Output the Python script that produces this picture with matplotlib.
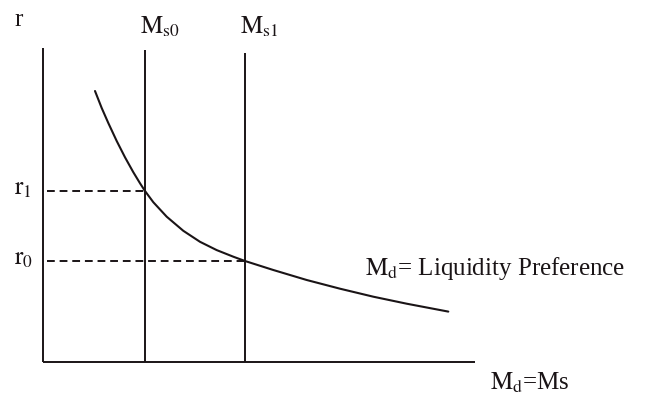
import matplotlib
matplotlib.use("Agg")
import matplotlib.pyplot as plt

# Data (in diagram units, origin at the axes corner)
curve_x = [52, 58.7, 65.3, 73.7, 82, 90.3, 97, 102, 110.3, 123.7, 140.3, 157,
           173.7, 190.3, 202, 230.3, 263.7, 297, 330.3, 363.7, 405.3]
curve_y = [271, 254, 239, 221, 204.7, 189.8, 178.75, 171, 159.8, 145.3, 131.2, 120.2,
           111.9, 105.3, 101, 92, 82, 73.3, 65.3, 58.3, 50.4]
ms0 = 102
ms1 = 202
ms0_top = 312
ms1_top = 309
r1 = 171
r0 = 101
x_max = 432
y_max = 314

plt.rcParams['mathtext.fontset'] = 'stix'
plt.rcParams['font.family'] = ['Liberation Serif', 'DejaVu Serif']

W, H = 652, 399
fig = plt.figure(figsize=(W / 100, H / 100), dpi=100)
ax = fig.add_axes([43 / W, 37 / H, 432 / W, 314 / H])
ax.set_xlim(0, x_max)
ax.set_ylim(0, y_max)
ax.axis('off')

col = '#1a1416'
lw = 1.4
kw = dict(color=col, lw=lw, clip_on=False, solid_capstyle='butt')
# axes
ax.plot([0, 0], [0, y_max], **kw)
ax.plot([0, x_max], [0, 0], **kw)
# money supply lines
ax.plot([ms0, ms0], [0, ms0_top], **kw)
ax.plot([ms1, ms1], [0, ms1_top], **kw)
# demand curve
ax.plot(curve_x, curve_y, color=col, lw=1.5, clip_on=False,
        solid_joinstyle='round', solid_capstyle='round')
# dashed guides
ax.plot([4, ms0], [r1, r1], color=col, lw=1.4, dashes=(4, 2.5), clip_on=False)
ax.plot([4, ms1], [r0, r0], color=col, lw=1.4, dashes=(4, 2.5), clip_on=False)

fs = 18
ax.text(-29, 342, 'r', fontsize=fs, ha='left', va='center', color=col)
ax.text(97, 335, r'$\mathrm{M}_{\mathrm{s0}}$', fontsize=fs, ha='left', va='center', color=col)
ax.text(197, 335, r'$\mathrm{M}_{\mathrm{s1}}$', fontsize=fs, ha='left', va='center', color=col)
ax.text(-29, r1 + 2, r'$\mathrm{r}_{1}$', fontsize=fs, ha='left', va='center', color=col)
ax.text(-29, r0 + 2, r'$\mathrm{r}_{0}$', fontsize=fs, ha='left', va='center', color=col)
ax.text(322, 94, r'$\mathrm{M}_{\mathrm{d}}$= Liquidity Preference', fontsize=fs,
        ha='left', va='center', color=col)
ax.text(447, -21, r'$\mathrm{M}_{\mathrm{d}}$=Ms', fontsize=fs, ha='left', va='center', color=col)

fig.savefig('out.png', dpi=100)
